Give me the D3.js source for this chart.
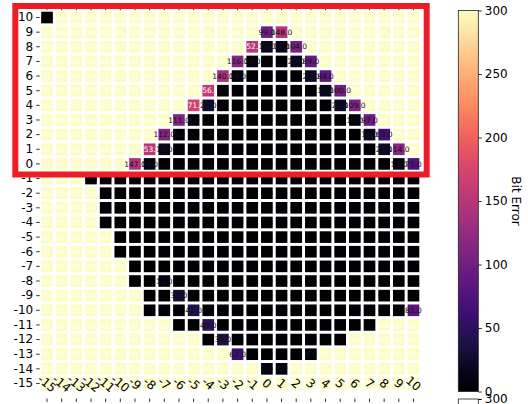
<!DOCTYPE html>
<html><head><meta charset="utf-8">
<script src="https://cdn.jsdelivr.net/npm/d3@7"></script>
<style>body{margin:0;background:#fff;} text{font-family:"DejaVu Sans",sans-serif;}</style>
</head><body>
<svg id="c" width="528" height="404"></svg>
<script>
// ---- data ----
const xCats = [-15,-14,-13,-12,-11,-10,-9,-8,-7,-6,-5,-4,-3,-2,-1,0,1,2,3,4,5,6,7,8,9,10];
const yCats = [10,9,8,7,6,5,4,3,2,1,0,-1,-2,-3,-4,-5,-6,-7,-8,-9,-10,-11,-12,-13,-14,-15];
// each row: values for x = -15 .. 10
const row10  = [0,300,300,300,300,300,300,300,300,300,300,300,300,300,300,300,300,300,300,300,300,300,300,300,300,300];
const row9   = [300,300,300,300,300,300,300,300,300,300,300,300,300,300,300,99,148,300,300,300,300,300,300,300,300,300];
const row8   = [300,300,300,300,300,300,300,300,300,300,300,300,300,300,152,19,17,104,300,300,300,300,300,300,300,300];
const row7   = [300,300,300,300,300,300,300,300,300,300,300,300,300,116,10,0,0,20,89,300,300,300,300,300,300,300];
const row6   = [300,300,300,300,300,300,300,300,300,300,300,300,140,10,0,0,0,0,21,84,300,300,300,300,300,300];
const row5   = [300,300,300,300,300,300,300,300,300,300,300,156,6,0,0,0,0,0,0,17,100,300,300,300,300,300];
const row4   = [300,300,300,300,300,300,300,300,300,300,171,24,0,0,0,0,0,0,0,0,21,109,300,300,300,300];
const row3   = [300,300,300,300,300,300,300,300,300,111,8,0,0,0,0,0,0,0,0,0,0,10,97,300,300,300];
const row2   = [300,300,300,300,300,300,300,300,112,5,0,0,0,0,0,0,0,0,0,0,0,0,17,63,300,300];
const row1   = [300,300,300,300,300,300,300,153,17,0,0,0,0,0,0,0,0,0,0,0,0,0,0,20,114,300];
const row0   = [300,300,300,300,300,300,147,10,0,0,0,0,0,0,0,0,0,0,0,0,0,0,0,0,13,75];
const rowM1  = [300,300,300,0,0,0,0,0,0,0,0,0,0,0,0,0,0,0,0,0,0,0,0,0,0,0];
const rowM2  = [300,300,300,300,0,0,0,0,0,0,0,0,0,0,0,0,0,0,0,0,0,0,0,0,0,0];
const rowM3  = [300,300,300,300,0,0,0,0,0,0,0,0,0,0,0,0,0,0,0,0,0,0,0,0,0,0];
const rowM4  = [300,300,300,300,0,0,0,0,0,0,0,0,0,0,0,0,0,0,0,0,0,0,0,0,0,0];
const rowM5  = [300,300,300,300,300,0,0,0,0,0,0,0,0,0,0,0,0,0,0,0,0,0,0,0,0,0];
const rowM6  = [300,300,300,300,300,0,0,0,0,0,0,0,0,0,0,0,0,0,0,0,0,0,0,0,0,0];
const rowM7  = [300,300,300,300,300,300,0,0,0,0,0,0,0,0,0,0,0,0,0,0,0,0,0,0,0,0];
const rowM8  = [300,300,300,300,300,300,0,0,10,0,0,0,0,0,0,0,0,0,0,0,0,0,0,0,0,0];
const rowM9  = [300,300,300,300,300,300,300,0,0,30,0,0,0,0,0,0,0,0,0,0,0,0,0,0,0,0];
const rowM10 = [300,300,300,300,300,300,300,0,0,0,41,0,0,0,0,0,0,0,0,0,0,0,0,0,0,81];
const rowM11 = [300,300,300,300,300,300,300,300,300,0,0,48,0,0,0,0,0,0,0,0,0,0,0,300,300,300];
const rowM12 = [300,300,300,300,300,300,300,300,300,300,300,0,34,0,0,0,0,0,0,0,0,300,300,300,300,300];
const rowM13 = [300,300,300,300,300,300,300,300,300,300,300,300,300,62,0,0,0,0,8,300,300,300,300,300,300,300];
const rowM14 = [300,300,300,300,300,300,300,300,300,300,300,300,300,300,300,8,8,300,300,300,300,300,300,300,300,300];
const rowM15 = [300,300,300,300,300,300,300,300,300,300,300,300,300,300,300,300,300,300,300,300,300,300,300,300,300,300];
const rows = [row10,row9,row8,row7,row6,row5,row4,row3,row2,row1,row0,rowM1,rowM2,rowM3,rowM4,rowM5,rowM6,rowM7,rowM8,rowM9,rowM10,rowM11,rowM12,rowM13,rowM14,rowM15];
const cbTicks = [0,50,100,150,200,250,300];
const cbLabel = "Bit Error";

// ---- layout ----
const svg = d3.select("#c");
const x = d3.scaleBand().domain(xCats).range([39.7, 420.8]);
const y = d3.scaleBand().domain(yCats).range([10.2, 390.8]);
const color = d3.scaleSequential(d3.interpolateMagma).domain([0, 300]);
const gap = 1.5;
const fmt = d3.format(".1f");

const cells = [];
yCats.forEach((yv, j) => xCats.forEach((xv, i) => cells.push({x: xv, y: yv, v: rows[j][i], id: "c" + i + "_" + j})));

const defs = svg.append("defs");
defs.selectAll("clipPath").data(cells).join("clipPath").attr("id", d => d.id)
  .append("rect")
  .attr("x", d => x(d.x) + gap).attr("y", d => y(d.y) + gap)
  .attr("width", x.bandwidth() - 2 * gap).attr("height", y.bandwidth() - 2 * gap);

svg.append("g").selectAll("rect").data(cells).join("rect")
  .attr("x", d => x(d.x) + gap).attr("y", d => y(d.y) + gap)
  .attr("width", x.bandwidth() - 2 * gap).attr("height", y.bandwidth() - 2 * gap)
  .attr("fill", d => color(d.v));

// white clipped annotations (high values)
svg.append("g").selectAll("text").data(cells.filter(d => d.v >= 150 || d.v === 0)).join("text")
  .attr("clip-path", d => "url(#" + d.id + ")")
  .attr("x", d => x(d.x) + x.bandwidth() / 2).attr("y", d => y(d.y) + y.bandwidth() / 2)
  .attr("dy", "0.35em").attr("text-anchor", "middle")
  .attr("font-size", 7.5).attr("fill", d => d.v === 0 ? "#000" : "#fff")
  .text(d => fmt(d.v));

// dark unclipped annotations (low values)
svg.append("g").selectAll("text").data(cells.filter(d => d.v > 0 && d.v < 150)).join("text")
  .attr("x", d => x(d.x) + x.bandwidth() / 2).attr("y", d => y(d.y) + y.bandwidth() / 2)
  .attr("dy", "0.35em").attr("text-anchor", "middle")
  .attr("font-size", 7.5).attr("fill", "#111")
  .text(d => fmt(d.v));

// y axis
const yAx = svg.append("g").attr("transform", "translate(39.7,0)")
  .call(d3.axisLeft(y).tickSize(3.5).tickPadding(3));
yAx.select(".domain").remove();
yAx.selectAll("text").attr("font-size", 12).attr("font-family", "DejaVu Sans").attr("fill", "#000");
yAx.selectAll("line").attr("stroke", "#000").attr("stroke-width", 0.8);

// top ticks
svg.append("g").selectAll("line").data(xCats).join("line")
  .attr("x1", d => x(d) + x.bandwidth() / 2).attr("x2", d => x(d) + x.bandwidth() / 2)
  .attr("y1", 6.7).attr("y2", 10.2).attr("stroke", "#000").attr("stroke-width", 0.8);
// bottom ticks
svg.append("g").selectAll("line").data(xCats).join("line")
  .attr("x1", d => x(d) + x.bandwidth() / 2).attr("x2", d => x(d) + x.bandwidth() / 2)
  .attr("y1", 398.5).attr("y2", 402).attr("stroke", "#000").attr("stroke-width", 0.8);
// x tick labels (rotated, sitting on the last row)
svg.append("g").selectAll("text").data(xCats).join("text")
  .attr("transform", d => `translate(${x(d) + x.bandwidth() / 2},${y(-15) + y.bandwidth() / 2}) rotate(40)`)
  .attr("text-anchor", "middle").attr("dy", "0.35em")
  .attr("font-size", 12).attr("fill", "#000")
  .text(d => d);

// red highlight rectangle
svg.append("rect").attr("x", 15.3).attr("y", 6).attr("width", 426.7 - 15.3).attr("height", 174.5 - 6)
  .attr("fill", "none").attr("stroke", "#ee1c25").attr("stroke-width", 6);

// colorbar
const cbX = 458.3, cbW = 20, cbTop = 10.5, cbBot = 391.5;
const grad = defs.append("linearGradient").attr("id", "cbg").attr("x1", 0).attr("y1", 1).attr("x2", 0).attr("y2", 0);
grad.selectAll("stop").data(d3.range(0, 1.0001, 0.05)).join("stop")
  .attr("offset", d => d).attr("stop-color", d => d3.interpolateMagma(d));
svg.append("rect").attr("x", cbX).attr("y", cbTop).attr("width", cbW).attr("height", cbBot - cbTop)
  .attr("fill", "url(#cbg)").attr("stroke", "#222").attr("stroke-width", 0.8);
const cbScale = d3.scaleLinear().domain([0, 300]).range([cbBot, cbTop]);
const cbAx = svg.append("g").attr("transform", `translate(${cbX + cbW},0)`)
  .call(d3.axisRight(cbScale).tickValues(cbTicks).tickSize(3.5).tickPadding(3));
cbAx.select(".domain").remove();
cbAx.selectAll("text").attr("font-size", 12).attr("font-family", "DejaVu Sans").attr("fill", "#000");
cbAx.selectAll("line").attr("stroke", "#000").attr("stroke-width", 0.8);
svg.append("text").attr("transform", `translate(516,${(cbTop + cbBot) / 2}) rotate(90)`)
  .attr("text-anchor", "middle").attr("dy", "0.35em").attr("font-size", 12).text(cbLabel);

// top of a second colorbar peeking at the bottom edge
const cb2 = d3.scaleLinear().domain([0, 300]).range([780, 399]);
svg.append("rect").attr("x", cbX).attr("y", cb2(300)).attr("width", cbW).attr("height", 400)
  .attr("fill", "#fff").attr("stroke", "#222").attr("stroke-width", 0.8);
const cb2Ax = svg.append("g").attr("transform", `translate(${cbX + cbW},0)`)
  .call(d3.axisRight(cb2).tickValues([300]).tickSize(3.5).tickPadding(3));
cb2Ax.select(".domain").remove();
cb2Ax.selectAll("text").attr("font-size", 12).attr("font-family", "DejaVu Sans").attr("fill", "#000");
</script>
</body></html>
